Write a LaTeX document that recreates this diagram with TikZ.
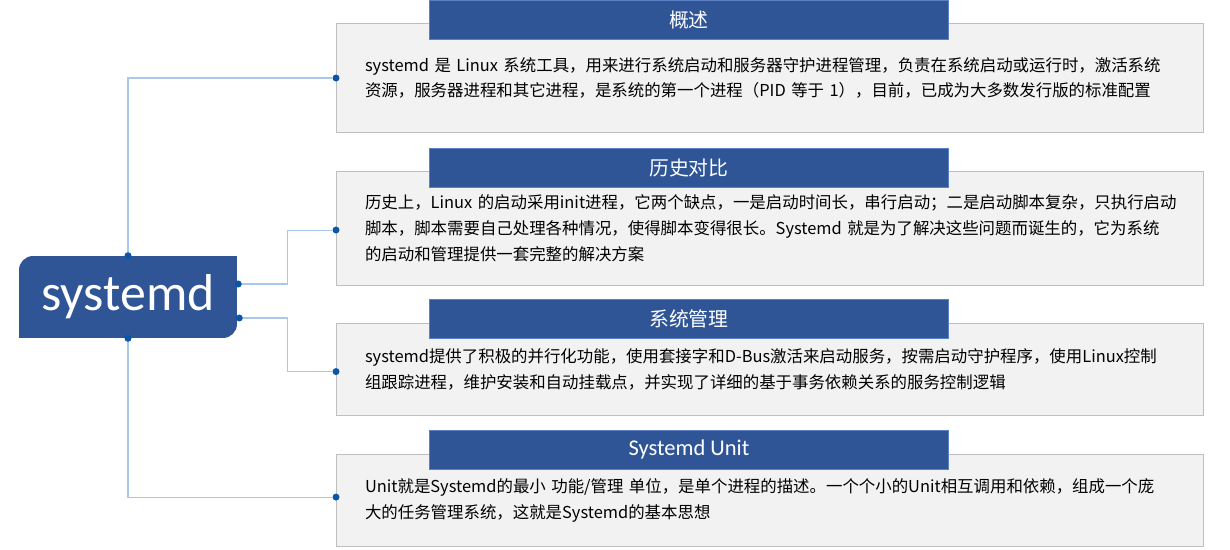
\documentclass[tikz,border=0pt]{standalone}
\usepackage{fontspec}
\setmainfont{Noto Sans CJK SC}
\newfontfamily\calibrifont{Carlito}
\usetikzlibrary{positioning, calc, backgrounds}

\definecolor{topicblue}{HTML}{2F5597}
\definecolor{barline}{HTML}{5B80C4}
\definecolor{boxfill}{HTML}{F2F2F2}
\definecolor{boxline}{HTML}{BFBFBF}
\definecolor{dotblue}{HTML}{0B56A8}
\definecolor{linkblue}{HTML}{A9C8EA}

\begin{document}
\begin{tikzpicture}[
    x=0.02cm, y=-0.02cm,
    node distance=0.75cm,
    root/.style={fill=topicblue, rounded corners=0.28cm, minimum width=4.36cm, minimum height=1.64cm, inner sep=0pt, text=white, font=\calibrifont\fontsize{29.5}{32}\selectfont},
    content/.style={draw=boxline, fill=boxfill, line width=0.6pt, text width=16.2cm, inner xsep=0.57cm, inner ysep=0pt, align=left, font=\fontsize{9.35}{14.7}\selectfont},
    titlebar/.style={fill=topicblue, draw=barline, line width=0.6pt, anchor=north west, minimum width=10.38cm, minimum height=0.78cm, inner sep=0pt, text=white, font=\fontsize{11.3}{13}\selectfont},
    dot/.style={circle, fill=dotblue, inner sep=0pt, minimum size=0.14cm},
    link/.style={draw=linkblue, line width=0.6pt}
  ]
    \useasboundingbox (0,0) rectangle (1230,550);

    % Nodes
    \node[root] (sys) at (128,297) {systemd};
    \begin{scope}[on background layer]
      \fill[topicblue] (sys.north east) rectangle ([xshift=-0.4cm, yshift=-0.4cm]sys.north east);
      \fill[topicblue] (sys.south west) rectangle ([xshift=0.4cm, yshift=0.4cm]sys.south west);
    \end{scope}

    \node[content, anchor=north west, minimum height=2.18cm] (intro) at (336,23) {systemd 是 Linux 系统工具，用来进行系统启动和服务器守护进程管理，负责在系统启动或运行时，激活系统\\资源，服务器进程和其它进程，是系统的第一个进程（PID 等于 1），目前，已成为大多数发行版的标准配置\\[0.16cm]};
    \node[content, below=of intro, minimum height=2.28cm] (history) {历史上，Linux 的启动采用init进程，它两个缺点，一是启动时间长，串行启动；二是启动脚本复杂，只执行启动\\脚本，脚本需要自己处理各种情况，使得脚本变得很长。Systemd 就是为了解决这些问题而诞生的，它为系统\\的启动和管理提供一套完整的解决方案};
    \node[content, below=of history, minimum height=1.84cm] (manage) {systemd提供了积极的并行化功能，使用套接字和D-Bus激活来启动服务，按需启动守护程序，使用Linux控制\\组跟踪进程，维护安装和自动挂载点，并实现了详细的基于事务依赖关系的服务控制逻辑};
    \node[content, below=of manage, minimum height=1.84cm] (unit) {Unit就是Systemd的最小 功能/管理 单位，是单个进程的描述。一个个小的Unit相互调用和依赖，组成一个庞\\大的任务管理系统，这就是Systemd的基本思想};

    % Title bars
    \node[titlebar] (introtitle) at ($(intro.north west)+(93,-23)$) {概述};
    \node[titlebar] (historytitle) at ($(history.north west)+(93,-23)$) {历史对比};
    \node[titlebar] (managetitle) at ($(manage.north west)+(93,-24)$) {系统管理};
    \node[titlebar, font=\calibrifont\fontsize{12.8}{14}\selectfont] (unittitle) at ($(unit.north west)+(93,-24)$) {Systemd Unit};

    % Dots
    \node[dot] (rtop) at (sys.north) {};
    \node[dot] (rbot) at (sys.south) {};
    \node[dot] (rup) at ($(sys.east)+(1,-13)$) {};
    \node[dot] (rlow) at ($(sys.east)+(2,21)$) {};
    \node[dot] (dintro) at (intro.west) {};
    \node[dot] (dhistory) at ($(history.west)+(0,2)$) {};
    \node[dot] (dmanage) at ($(manage.west)+(0,2)$) {};
    \node[dot] (dunit) at ($(unit.west)+(0,-3)$) {};

    % Connections
    \draw[link] (rtop) |- (dintro);
    \draw[link] (rup) -| ($(rup)!0.5!(dhistory)$) |- (dhistory);
    \draw[link] (rlow) -| ($(rlow)!0.5!(dmanage)$) |- (dmanage);
    \draw[link] (rbot) |- (dunit);

  \end{tikzpicture}
\end{document}
